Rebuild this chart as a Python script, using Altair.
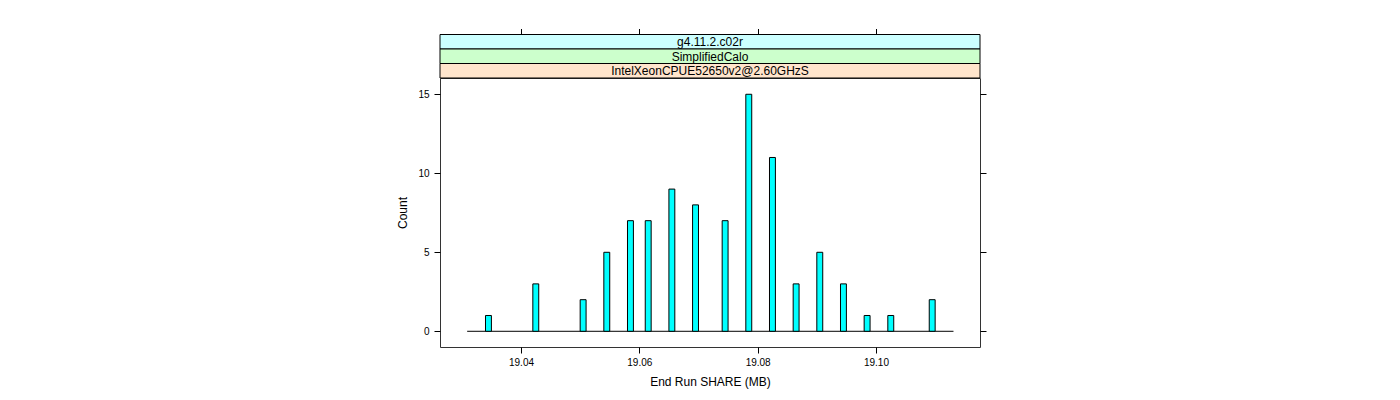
import altair as alt
import pandas as pd

# ---- data ----
bin_centers = [19.0345, 19.0425, 19.0505, 19.0545, 19.0585, 19.0615, 19.0655,
               19.0695, 19.0745, 19.0785, 19.0825, 19.0865, 19.0905, 19.0945,
               19.0985, 19.1025, 19.1095]
counts = [1, 3, 2, 5, 7, 7, 9, 8, 7, 15, 11, 3, 5, 3, 1, 1, 2]
bin_width = 0.001
range_start = 19.0309
range_end = 19.1131
x_ticks = [19.04, 19.06, 19.08, 19.10]
y_ticks = [0, 5, 10, 15]
strip_labels = ["g4.11.2.c02r", "SimplifiedCalo", "IntelXeonCPUE52650v2@2.60GHzS"]
strip_colors = ["#CCFFFF", "#CCFFCC", "#FFE5CC"]

FONT = "Liberation Sans"
W, H = 540, 269

df = pd.DataFrame({
    "lo": [c - bin_width / 2 for c in bin_centers],
    "hi": [c + bin_width / 2 for c in bin_centers],
    "count": counts,
    "zero": [0] * len(counts),
})
base_df = pd.DataFrame({"a": [range_start], "b": [range_end], "z": [0]})

xscale = alt.Scale(domain=[19.02631, 19.11758], nice=False, zero=False)
yscale = alt.Scale(domain=[-0.994, 16.03], nice=False, zero=False)

baseline = alt.Chart(base_df).mark_rule(color="black", strokeWidth=1).encode(
    x=alt.X("a:Q", scale=xscale,
            axis=alt.Axis(values=x_ticks, format=".2f", title="End Run SHARE (MB)",
                          labelPadding=4, titlePadding=9)),
    x2="b:Q",
    y=alt.Y("z:Q", scale=yscale,
            axis=alt.Axis(values=y_ticks, title="Count", labelPadding=5, titlePadding=8)),
)

bars = alt.Chart(df).mark_rect(fill="#00FFFF", stroke="black", strokeWidth=1).encode(
    x=alt.X("lo:Q", scale=xscale, axis=None),
    x2="hi:Q",
    y=alt.Y("count:Q", scale=yscale, axis=None),
    y2="zero:Q",
)

ghost = alt.Chart(df).mark_point(opacity=0).encode(
    x=alt.X("lo:Q", scale=xscale,
            axis=alt.Axis(orient="top", offset=43.5, labels=False, title=None,
                          values=x_ticks)),
    y=alt.Y("count:Q", scale=yscale,
            axis=alt.Axis(orient="right", labels=False, title=None, values=y_ticks)),
)

strip_bounds = [(-43.5, -29.0), (-29.0, -14.5), (-14.5, 0.0)]
strip_layers = []
for label, color, (top, bottom) in zip(strip_labels, strip_colors, strip_bounds):
    sdf = pd.DataFrame({"label": [label]})
    rect = alt.Chart(sdf).mark_rect(fill=color, stroke="black", strokeWidth=1).encode(
        x=alt.value(0), x2=alt.value(W), y=alt.value(top), y2=alt.value(bottom)
    )
    txt = alt.Chart(sdf).mark_text(font=FONT, fontSize=12, color="black",
                                   align="center", baseline="middle").encode(
        x=alt.value(W / 2), y=alt.value((top + bottom) / 2 + 0.5), text="label:N"
    )
    strip_layers += [rect, txt]

chart = alt.layer(baseline, bars, ghost, *strip_layers).resolve_axis(
    x="independent", y="independent"
).properties(
    width=W, height=H,
    autosize=alt.AutoSizeParams(type="none"),
    padding={"left": 432, "top": 70, "right": 412, "bottom": 46},
).configure_view(
    stroke="#333333", strokeWidth=1
).configure_axis(
    domain=False, grid=False, tickColor="black", tickSize=6, tickWidth=1,
    labelColor="black", labelFont=FONT, labelFontSize=10,
    titleColor="black", titleFont=FONT, titleFontSize=12, titleFontWeight="normal",
)

chart.save("out.html", embed_options={"renderer": "svg", "actions": False})
